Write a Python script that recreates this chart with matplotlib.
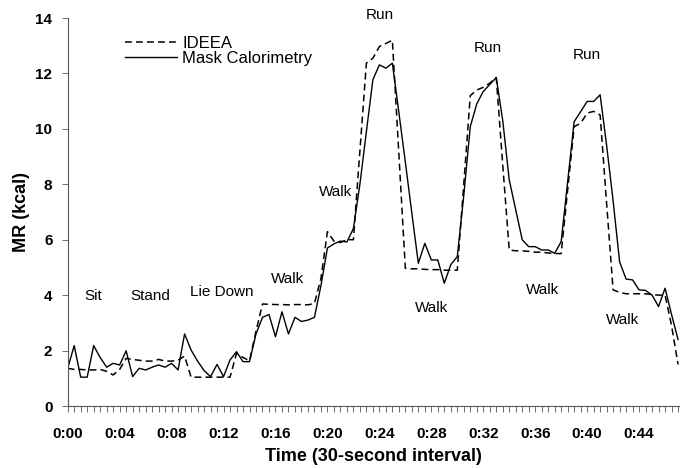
import matplotlib.pyplot as plt
import numpy as np

plt.rcParams['font.family'] = ['Liberation Sans', 'DejaVu Sans']

# metabolic rate every 30 s over the whole protocol
ideea = [1.36, 1.32, 1.32, 1.30, 1.30, 1.32, 1.25, 1.12, 1.32, 1.72,
         1.68, 1.65, 1.62, 1.62, 1.68, 1.62, 1.62, 1.65, 1.80, 1.04,
         1.04, 1.04, 1.04, 1.04, 1.04, 1.04, 1.90, 1.75, 1.63, 2.70,
         3.68, 3.67, 3.66, 3.66, 3.65, 3.66, 3.66, 3.65, 3.70, 4.60,
         6.29, 5.95, 5.90, 6.00, 6.00, 9.20, 12.37, 12.55, 12.97, 13.08,
         13.20, 9.10, 4.97, 4.95, 4.95, 4.93, 4.92, 4.92, 4.90, 4.90,
         4.90, 8.00, 11.20, 11.40, 11.50, 11.65, 11.85, 8.70, 5.63, 5.60,
         5.60, 5.58, 5.55, 5.55, 5.52, 5.50, 5.50, 7.80, 10.08, 10.20,
         10.57, 10.63, 10.50, 7.30, 4.19, 4.10, 4.05, 4.05, 4.05, 4.05,
         4.02, 4.00, 4.00, 2.90, 1.50]

mask = [1.36, 2.18, 1.04, 1.04, 2.18, 1.75, 1.40, 1.54, 1.48, 1.99,
        1.06, 1.36, 1.30, 1.40, 1.48, 1.40, 1.54, 1.30, 2.60, 2.02,
        1.62, 1.28, 1.06, 1.50, 1.06, 1.66, 1.96, 1.60, 1.60, 2.60,
        3.20, 3.30, 2.50, 3.40, 2.60, 3.20, 3.05, 3.10, 3.20, 4.34,
        5.70, 5.85, 5.95, 5.92, 6.40, 8.00, 9.90, 11.77, 12.31, 12.19,
        12.37, 10.60, 8.80, 6.96, 5.15, 5.87, 5.27, 5.27, 4.43, 5.10,
        5.39, 7.60, 10.08, 10.90, 11.35, 11.60, 11.85, 10.30, 8.16, 7.08,
        6.00, 5.75, 5.75, 5.63, 5.63, 5.51, 5.93, 8.10, 10.26, 10.62,
        10.99, 10.99, 11.23, 9.40, 7.40, 5.20, 4.58, 4.55, 4.19, 4.17,
        4.00, 3.59, 4.25, 3.30, 2.40]

time_labels = ["0:00", "0:04", "0:08", "0:12", "0:16", "0:20",
               "0:24", "0:28", "0:32", "0:36", "0:40", "0:44"]

activities = ["Sit", "Stand", "Lie Down", "Walk", "Walk", "Run",
              "Walk", "Run", "Walk", "Run", "Walk"]
act_x = [3.9, 12.7, 23.8, 33.9, 41.3, 48.0, 56.1, 64.7, 73.1, 80.0, 85.4]
act_y = [3.97, 3.97, 4.1, 4.6, 7.73, 14.1, 3.52, 12.92, 4.19, 12.67, 3.1]

fig = plt.figure(figsize=(6.8, 4.68), dpi=100)
ax = fig.add_axes([67.7 / 680, 62 / 468, (680 - 67.7) / 680, 388 / 468])

x = np.arange(len(mask))
ax.plot(x, ideea, color='black', lw=1.1, ls=(0, (4.5, 2.7)), label='IDEEA')
ax.plot(x, mask, color='black', lw=1.0, label='Mask Calorimetry')

ax.set_xlim(0, 94.3)
ax.set_ylim(0, 14)
ax.set_yticks(range(0, 15, 2))
ax.set_xticks(np.arange(0, 8 * len(time_labels), 8))
ax.set_xticklabels(time_labels)
ax.set_xticks(np.arange(0, 95), minor=True)

for side in ['top', 'right']:
    ax.spines[side].set_visible(False)
for side in ['left', 'bottom']:
    ax.spines[side].set_linewidth(0.8)
    ax.spines[side].set_color('#555555')

ax.tick_params(axis='x', which='both', direction='out', length=4, width=0.6,
               color='#555555', pad=11, labelsize=11)
ax.tick_params(axis='y', direction='out', length=4, width=0.6,
               color='#555555', pad=7, labelsize=11)
for lab in ax.get_xticklabels() + ax.get_yticklabels():
    lab.set_fontweight('bold')

ax.set_xlabel('Time (30-second interval)', fontsize=13, fontweight='bold', va='center')
ax.xaxis.set_label_coords(0.5, -0.131)
ax.set_ylabel('MR (kcal)', fontsize=13, fontweight='bold', va='center')
ax.yaxis.set_label_coords(-0.075, 0.5)

for s, tx, ty in zip(activities, act_x, act_y):
    ax.text(tx, ty, s, ha='center', va='center', fontsize=11, clip_on=False)

ax.legend(loc='upper left', bbox_to_anchor=(125 / 680, 1 - 36 / 468),
          bbox_transform=fig.transFigure, frameon=False, fontsize=12,
          handlelength=3.1, handletextpad=0.35, labelspacing=0.0,
          borderpad=0, borderaxespad=0)

fig.savefig('out.png', dpi=100)
